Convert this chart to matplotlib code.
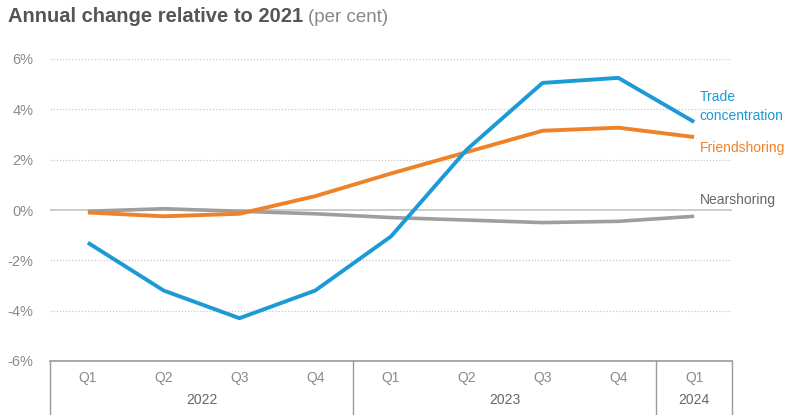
import matplotlib.pyplot as plt
import numpy as np

quarters = ["Q1", "Q2", "Q3", "Q4", "Q1", "Q2", "Q3", "Q4", "Q1"]
years = ["2022", "2023", "2024"]
year_spans = [(0, 3), (4, 7), (8, 8)]

trade_conc = [-1.3, -3.2, -4.3, -3.2, -1.05, 2.4, 5.05, 5.25, 3.5]
friendshoring = [-0.1, -0.25, -0.15, 0.55, 1.45, 2.3, 3.15, 3.27, 2.9]
nearshoring = [-0.05, 0.05, -0.05, -0.15, -0.3, -0.4, -0.5, -0.45, -0.25]

blue = "#1b9ad6"
orange = "#ef8228"
grey = "#a09e9c"
txt = "#8a8a8a"

plt.rcParams['font.family'] = ['Liberation Sans', 'DejaVu Sans']

fig = plt.figure(figsize=(7.86, 4.15), dpi=100)
ax = fig.add_axes([50/786, 1 - 361/415, (732 - 50)/786, 302/415])

x = np.arange(len(quarters))
ax.plot(x, nearshoring, color=grey, lw=2.6, solid_capstyle="butt", zorder=3)
ax.plot(x, friendshoring, color=orange, lw=2.8, solid_capstyle="butt", zorder=4)
ax.plot(x, trade_conc, color=blue, lw=2.8, solid_capstyle="butt", zorder=5)

ax.set_xlim(-0.5, 8.5)
ax.set_ylim(-6, 6)
yt = [6, 4, 2, 0, -2, -4, -6]
ax.set_yticks(yt)
ax.set_yticklabels([f"{v}%" for v in yt], color=txt, fontsize=10.5)
ax.tick_params(axis="y", length=0, pad=12)
ax.set_xticks([])
for v in [6, 4, 2, -2, -4]:
    ax.axhline(v, color="#c8c8c8", lw=0.9, ls=(0, (1, 1.5)), zorder=1)
ax.axhline(0, color="#c4c4c4", lw=1.2, zorder=2)

for s in ["top", "left", "right"]:
    ax.spines[s].set_visible(False)
ax.spines["bottom"].set_color("#9a9a9a")
ax.spines["bottom"].set_linewidth(1.2)

# category box below the plot
tr = ax.get_xaxis_transform()
for xb in [-0.5, 3.5, 7.5, 8.5]:
    ax.plot([xb, xb], [0, -0.18], color="#9a9a9a", lw=1.0, transform=tr, clip_on=False)
for i, q in enumerate(quarters):
    ax.text(i, -0.056, q, transform=tr, ha="center", va="center", color=txt, fontsize=10)
for yr, (a, b) in zip(years, year_spans):
    ax.text((a + b) / 2, -0.13, yr, transform=tr, ha="center", va="center", color="#666666", fontsize=10)

# series labels
ax.text(8.07, 4.5, "Trade", color=blue, fontsize=10, va="center", ha="left")
ax.text(8.07, 3.72, "concentration", color=blue, fontsize=10, va="center", ha="left")
ax.text(8.07, 2.45, "Friendshoring", color=orange, fontsize=10, va="center", ha="left")
ax.text(8.07, 0.4, "Nearshoring", color="#666666", fontsize=10, va="center", ha="left")

t1 = fig.text(8/786, 1 - 17/415, "Annual change relative to 2021", fontsize=14.5, fontweight="bold",
              color="#555555", va="center", ha="left")
fig.canvas.draw()
bb = t1.get_window_extent()
fig.text((bb.x1 + 5)/786, 1 - 17/415, "(per cent)", fontsize=13.5, color="#888888", va="center", ha="left")

fig.savefig("out.png", dpi=100)
